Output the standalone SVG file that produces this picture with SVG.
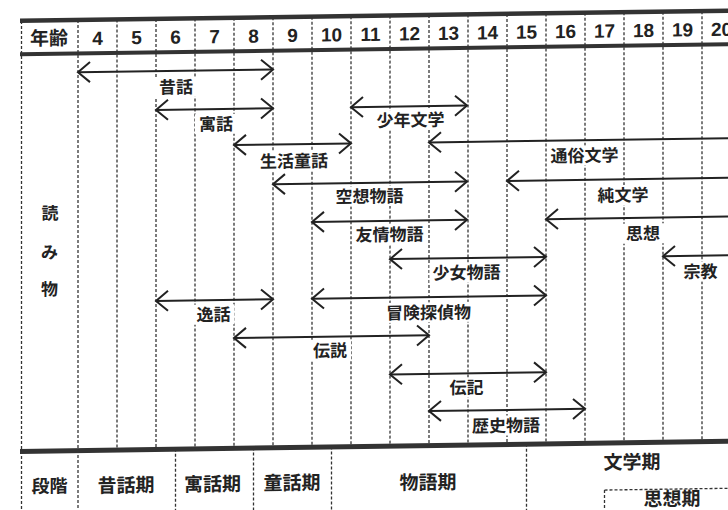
<svg xmlns="http://www.w3.org/2000/svg" width="728" height="510" viewBox="0 0 728 510">
<style>
.grid{stroke:#333;stroke-width:1.3;stroke-dasharray:3 2;fill:none}
.bar{fill:#333}
.arr{stroke:#222;stroke-width:2;fill:none;marker-start:url(#ah);marker-end:url(#ah)}
.arrL{stroke:#222;stroke-width:2;fill:none;marker-start:url(#ah)}
.lbl{font-family:"Noto Sans CJK JP","Noto Sans CJK SC",sans-serif;font-weight:bold;font-size:17px;fill:#222;text-anchor:middle}
.hd{font-family:"Noto Sans CJK JP",sans-serif;font-weight:bold;font-size:19px;fill:#222;text-anchor:middle}
.num{font-family:"Liberation Sans",Arial,sans-serif;font-weight:bold;font-size:19px;fill:#222;text-anchor:middle}
.bg{fill:#fff}
</style>
<defs>
<marker id="ah" markerUnits="userSpaceOnUse" orient="auto-start-reverse" refX="0" refY="0" markerWidth="30" markerHeight="30" style="overflow:visible">
<path d="M-12,-10 L0,0 L-12,10" fill="none" stroke="#222" stroke-width="2"/>
</marker>
</defs>
<rect x="0" y="0" width="728" height="510" fill="#fff"/>
<g transform="matrix(1 -0.0143 0 1 0 5.2)">
<g id="grid">
<path class="grid" d="M21.5,16V446 M78,16V446 M117,16V446 M156,16V446 M195,16V446 M234,16V446 M273,16V446 M312,16V446 M351,16V446 M390,16V446 M429,16V446 M468,16V446 M507,16V446 M546,16V446 M585,16V446 M624,16V446 M663,16V446 M702,16V446"/>
<path class="grid" d="M21.5,446V520 M78,446V520 M175.5,446V520 M253.5,446V520 M331.5,446V520 M526.5,446V520 M604.5,493.5V520 M604.5,493.5H740"/>
<rect class="bar" x="20" y="13.6" width="720" height="4.5"/>
<rect class="bar" x="20" y="47.4" width="720" height="4"/>
<rect class="bar" x="20" y="444" width="720" height="5"/>
</g>
<g id="header">
<text class="hd" x="49" y="40.5">年齢</text>
<text class="num" x="97.5" y="41">4</text>
<text class="num" x="136.5" y="41">5</text>
<text class="num" x="175.5" y="41">6</text>
<text class="num" x="214.5" y="41">7</text>
<text class="num" x="253.5" y="41">8</text>
<text class="num" x="292.5" y="41">9</text>
<text class="num" x="331.5" y="41">10</text>
<text class="num" x="370.5" y="41">11</text>
<text class="num" x="409.5" y="41">12</text>
<text class="num" x="448.5" y="41">13</text>
<text class="num" x="487.5" y="41">14</text>
<text class="num" x="526.5" y="41">15</text>
<text class="num" x="565.5" y="41">16</text>
<text class="num" x="604.5" y="41">17</text>
<text class="num" x="643.5" y="41">18</text>
<text class="num" x="682.5" y="41">19</text>
<text class="num" x="721.5" y="41">20</text>
</g>
<g id="yomimono">
<text class="lbl" x="50" y="214.8">読</text>
<text class="lbl" x="49.5" y="253.8">み</text>
<text class="lbl" x="49.5" y="290.8">物</text>
</g>
<g id="connectors">
<line class="arr" x1="78" y1="68.2" x2="273" y2="68.2"/>
<line class="arr" x1="156" y1="107" x2="273" y2="107"/>
<line class="arr" x1="351" y1="107" x2="467" y2="107"/>
<line class="arr" x1="234" y1="143.2" x2="351" y2="143.2"/>
<line class="arrL" x1="429" y1="143.4" x2="745" y2="143.4"/>
<line class="arr" x1="273" y1="183" x2="467" y2="183"/>
<line class="arrL" x1="507" y1="183" x2="745" y2="183"/>
<line class="arr" x1="312" y1="221.3" x2="467" y2="221.3"/>
<line class="arrL" x1="546" y1="221.8" x2="745" y2="221.8"/>
<line class="arr" x1="390" y1="259.5" x2="546" y2="259.5"/>
<line class="arrL" x1="663" y1="260.5" x2="745" y2="260.5"/>
<line class="arr" x1="156" y1="298" x2="273" y2="298"/>
<line class="arr" x1="312" y1="298" x2="546" y2="298"/>
<line class="arr" x1="234" y1="336.2" x2="429" y2="336.2"/>
<line class="arr" x1="390" y1="374.8" x2="546" y2="374.8"/>
<line class="arr" x1="429" y1="412" x2="585" y2="412"/>
</g>
<g id="mukashibanashi"><rect class="bg" x="155" y="74.3" width="42" height="20"/><text class="lbl" x="176" y="90.6">昔話</text></g>
<g id="guwa"><rect class="bg" x="195" y="111.9" width="42" height="20"/><text class="lbl" x="216" y="128.2">寓話</text></g>
<g id="seikatsu-dowa"><rect class="bg" x="257" y="150" width="74" height="20"/><text class="lbl" x="294" y="166.3">生活童話</text></g>
<g id="kuso-monogatari"><rect class="bg" x="332.5" y="186.4" width="74" height="20"/><text class="lbl" x="369.5" y="202.7">空想物語</text></g>
<g id="yujo-monogatari"><rect class="bg" x="352.5" y="224.9" width="74" height="20"/><text class="lbl" x="389.5" y="241.2">友情物語</text></g>
<g id="shonen-bungaku"><rect class="bg" x="373.5" y="110.7" width="74" height="20"/><text class="lbl" x="410.5" y="127">少年文学</text></g>
<g id="tsuzoku-bungaku"><rect class="bg" x="547.5" y="148.7" width="74" height="20"/><text class="lbl" x="584.5" y="165">通俗文学</text></g>
<g id="jun-bungaku"><rect class="bg" x="594.5" y="188.7" width="57" height="20"/><text class="lbl" x="623" y="205">純文学</text></g>
<g id="shiso"><rect class="bg" x="622" y="227.5" width="42" height="20"/><text class="lbl" x="643" y="243.8">思想</text></g>
<g id="shojo-monogatari"><rect class="bg" x="429.5" y="264" width="74" height="20"/><text class="lbl" x="466.5" y="280.3">少女物語</text></g>
<g id="shukyo"><rect class="bg" x="679.5" y="266.3" width="42" height="20"/><text class="lbl" x="700.5" y="282.6">宗教</text></g>
<g id="itsuwa"><rect class="bg" x="192.5" y="302.4" width="42" height="20"/><text class="lbl" x="213.5" y="318.7">逸話</text></g>
<g id="boken-tantei"><rect class="bg" x="383" y="303.4" width="91" height="20"/><text class="lbl" x="428.5" y="319.7">冒険探偵物</text></g>
<g id="densetsu"><rect class="bg" x="309" y="340" width="42" height="20"/><text class="lbl" x="330" y="356.3">伝説</text></g>
<g id="denki"><rect class="bg" x="445.5" y="379" width="42" height="20"/><text class="lbl" x="466.5" y="395.3">伝記</text></g>
<g id="rekishi-monogatari"><rect class="bg" x="469" y="417.5" width="74" height="20"/><text class="lbl" x="506" y="433.8">歴史物語</text></g>
<g id="stages">
<text class="hd" x="49.5" y="488" style="font-size:18px">段階</text>
<text class="hd" x="126" y="488.6">昔話期</text>
<text class="hd" x="212.5" y="488.8">寓話期</text>
<text class="hd" x="292" y="488.5">童話期</text>
<text class="hd" x="428" y="490">物語期</text>
<text class="hd" x="632" y="472.8">文学期</text>
<text class="hd" x="672" y="510">思想期</text>
</g>
</g>
</svg>
